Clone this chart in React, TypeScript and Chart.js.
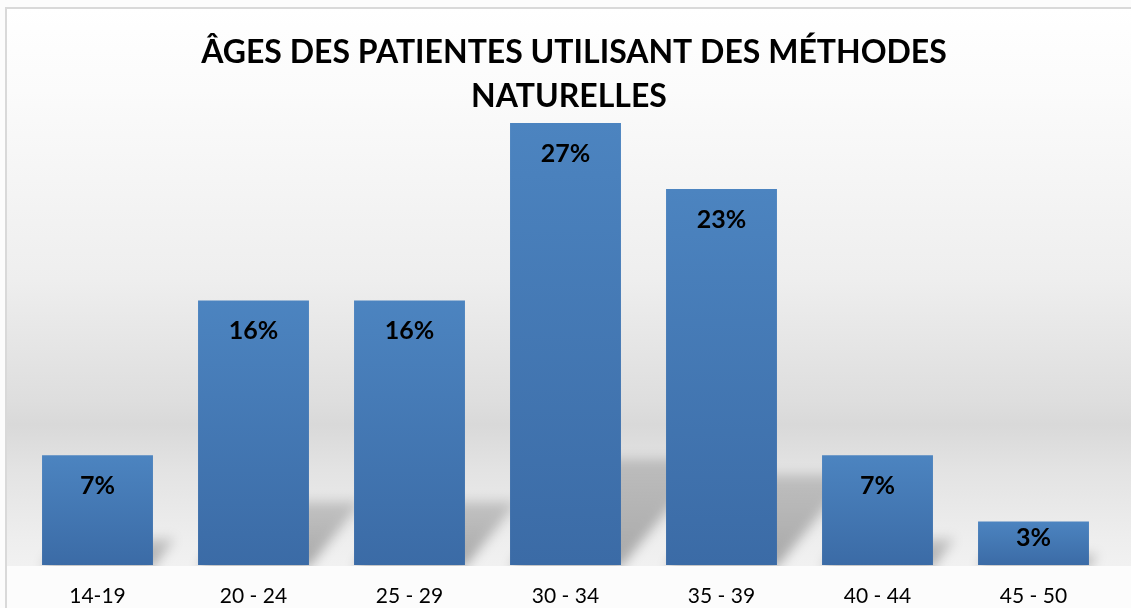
import React, { useEffect, useRef } from "react";
import { Chart, registerables } from "chart.js";

Chart.register(...registerables);

const categories = ["14-19", "20 - 24", "25 - 29", "30 - 34", "35 - 39", "40 - 44", "45 - 50"];
const percentages = [6.8, 16.4, 16.4, 27.4, 23.3, 6.8, 2.7];
const titleLines = ["ÂGES DES PATIENTES UTILISANT DES MÉTHODES", "NATURELLES"];

const FONT = "Lato, 'Open Sans', sans-serif";

const backgroundPlugin = {
  id: "bgPlugin",
  beforeDraw(chart: any) {
    const { ctx, chartArea, width, height } = chart;
    ctx.save();
    ctx.fillStyle = "#fcfcfc";
    ctx.fillRect(0, 0, width, height);
    const base = chartArea.bottom;
    const g = ctx.createLinearGradient(0, 8, 0, base);
    const stop = (y: number, c: string) => g.addColorStop(Math.min(1, Math.max(0, (y - 8) / (base - 8))), c);
    stop(8, "#ffffff");
    stop(90, "#fbfbfb");
    stop(180, "#f5f5f5");
    stop(280, "#eeeeee");
    stop(400, "#dedede");
    stop(425, "#d9d9d9");
    stop(470, "#e3e3e3");
    stop(540, "#eeeeee");
    stop(base, "#f1f1f1");
    ctx.fillStyle = g;
    ctx.fillRect(6, 8, width, base - 8 + 1);
    ctx.strokeStyle = "#d9d9d9";
    ctx.lineWidth = 2;
    ctx.strokeRect(6, 8, width + 20, height + 20);
    ctx.restore();
  },
  beforeDatasetsDraw(chart: any) {
    const { ctx, chartArea } = chart;
    const meta = chart.getDatasetMeta(0);
    ctx.save();
    ctx.beginPath();
    ctx.rect(chartArea.left - 50, 0, chartArea.right - chartArea.left + 100, chartArea.bottom + 1);
    ctx.clip();
    ctx.filter = "blur(6px)";
    meta.data.forEach((el: any) => {
      const h = el.base - el.y;
      const left = el.x - el.width / 2;
      const right = el.x + el.width / 2;
      const dx = h * 0.2;
      const dy = h * 0.24;
      const g = ctx.createLinearGradient(0, el.base, 0, el.base - dy - 1);
      g.addColorStop(0, "rgba(0,0,0,0.30)");
      g.addColorStop(1, "rgba(0,0,0,0.16)");
      ctx.fillStyle = g;
      ctx.beginPath();
      ctx.moveTo(left, el.base + 2);
      ctx.lineTo(right, el.base + 2);
      ctx.lineTo(right + dx, el.base - dy);
      ctx.lineTo(left + dx, el.base - dy);
      ctx.closePath();
      ctx.fill();
    });
    ctx.restore();
  },
  afterDatasetsDraw(chart: any) {
    const { ctx } = chart;
    const meta = chart.getDatasetMeta(0);
    ctx.save();
    ctx.fillStyle = "#000000";
    ctx.font = `bold 25px ${FONT}`;
    ctx.textAlign = "center";
    ctx.textBaseline = "middle";
    meta.data.forEach((el: any, i: number) => {
      const v = percentages[i];
      const h = el.base - el.y;
      const off = Math.min(31, h * 0.39);
      ctx.fillText(`${Math.round(v)}%`, el.x, el.y + off);
    });
    ctx.restore();
  },
  afterDraw(chart: any) {
    const { ctx } = chart;
    ctx.save();
    ctx.fillStyle = "#000000";
    ctx.font = `bold 32px ${FONT}`;
    ctx.textAlign = "center";
    ctx.textBaseline = "middle";
    ctx.fillText(titleLines[0], 574, 53);
    ctx.fillText(titleLines[1], 569, 97);
    ctx.restore();
  },
};

export default function App() {
  const ref = useRef<HTMLCanvasElement | null>(null);
  useEffect(() => {
    if (!ref.current) return;
    const chart = new Chart(ref.current, {
      type: "bar",
      data: {
        labels: categories,
        datasets: [
          {
            data: percentages,
            backgroundColor: (c: any) => {
              const chart = c.chart;
              const y = chart.scales && chart.scales.y;
              if (!y || c.raw == null) return "#4679b6";
              const top = y.getPixelForValue(c.raw);
              const bot = y.getPixelForValue(0);
              if (!isFinite(top) || !isFinite(bot) || Math.abs(bot - top) < 1) return "#4679b6";
              const g = chart.ctx.createLinearGradient(0, top, 0, bot);
              g.addColorStop(0, "#4c84c0");
              g.addColorStop(1, "#3b6ba6");
              return g;
            },
            borderWidth: 0,
            barPercentage: 0.711,
            categoryPercentage: 1,
          },
        ],
      },
      options: {
        responsive: false,
        animation: false,
        devicePixelRatio: 1,
        layout: { padding: { left: 19.5, right: 19.5, top: 81, bottom: 0 } },
        plugins: {
          legend: { display: false },
          title: { display: false },
          tooltip: { enabled: false },
        },
        scales: {
          x: {
            grid: { display: false },
            border: { display: false },
            ticks: {
              color: "#000000",
              font: { family: FONT, size: 21 },
              padding: 11,
              maxRotation: 0,
            },
            afterFit: (scale: any) => {
              scale.height = 43;
            },
          },
          y: {
            display: false,
            min: 0,
            max: 30,
          },
        },
      },
      plugins: [backgroundPlugin],
    });
    return () => chart.destroy();
  }, []);
  return (
    <div style={{ position: "fixed", left: 0, top: 0, width: 1131, height: 608, overflow: "hidden" }}>
      <canvas ref={ref} width={1131} height={608} style={{ display: "block" }} />
    </div>
  );
}
